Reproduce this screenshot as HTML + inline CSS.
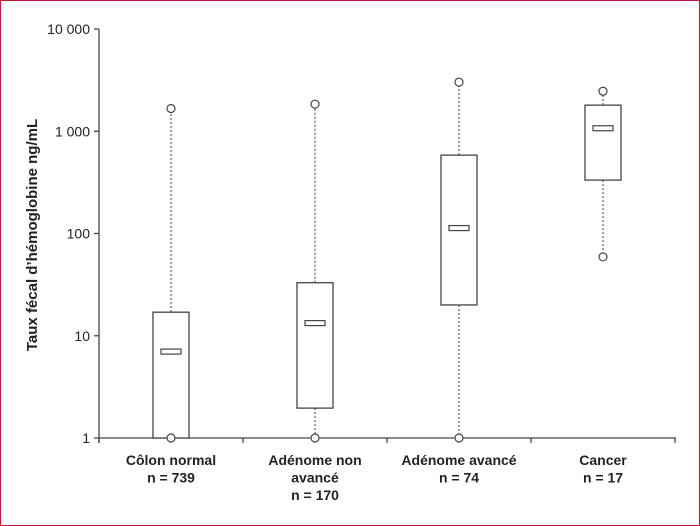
<!DOCTYPE html>
<html><head><meta charset="utf-8"><style>
html,body{margin:0;padding:0;background:#fff}
#wrap{width:698px;height:524px;border:1px solid #c0143c;position:relative}
svg{position:absolute;left:-1px;top:-1px}
text{font-family:"Liberation Sans",sans-serif;fill:#222}
</style></head><body>
<div id="wrap">
<svg id="chart" width="700" height="526"></svg>
</div>
<script>
const categories = ["Côlon normal", "Adénome non avancé", "Adénome avancé", "Cancer"];
const catLines = [["Côlon normal","n = 739"],["Adénome non","avancé","n = 170"],["Adénome avancé","n = 74"],["Cancer","n = 17"]];
const whiskerLow = [1, 1, 1, 59];
const q1 = [1, 1.96, 20, 333];
const medians = [7, 13.3, 113, 1070];
const q3 = [17, 33, 584, 1800];
const whiskerHigh = [1670, 1840, 3020, 2460];
const yTicks = [1, 10, 100, 1000, 10000];
const yTickLabels = ["1", "10", "100", "1 000", "10 000"];

const NS = "http://www.w3.org/2000/svg";
const svg = document.getElementById("chart");
const X0 = 99, X1 = 675, Y0 = 438, DEC = 102.25;
const bandW = (X1 - X0) / categories.length;
const yScale = v => Y0 - Math.log10(v) * DEC;
const xCenter = i => X0 + bandW * (i + 0.5);
function mk(tag, attrs, parent) {
  const e = document.createElementNS(NS, tag);
  for (const k in attrs) e.setAttribute(k, attrs[k]);
  (parent || svg).appendChild(e);
  return e;
}
const stroke = "#444";
// y axis
let yAxis = mk("line", {x1:X0, y1:yScale(10000), x2:X0, y2:Y0+5, stroke:stroke, "stroke-width":1.3});


yTicks.forEach((t, i) => {
  const tk = mk("line", {x1:X0-5, y1:yScale(t), x2:X0, y2:yScale(t), stroke:stroke, "stroke-width":1.3});
  
  
  const lb = mk("text", {x:X0-9, y:yScale(t)+5, "text-anchor":"end", "font-size":14});
  lb.textContent = yTickLabels[i];
  
  
});
// x axis
let xAxis = mk("line", {x1:X0, y1:Y0, x2:X1+1, y2:Y0, stroke:stroke, "stroke-width":1.3});


for (let i = 0; i <= categories.length; i++) {
  const tk = mk("line", {x1:X0+bandW*i, y1:Y0, x2:X0+bandW*i, y2:Y0+5, stroke:stroke, "stroke-width":1.3});
  
  
}
// y title
const yt = mk("text", {x:0, y:0, transform:"translate(37,235) rotate(-90)", "text-anchor":"middle", "font-size":15, "font-weight":"bold"});
yt.textContent = "Taux fécal d’hémoglobine ng/mL";


// boxes
categories.forEach((c, i) => {
  const cx = xCenter(i);
  const g = mk("g", {});
  
  
  const wl = mk("line", {x1:cx, y1:yScale(q3[i]), x2:cx, y2:yScale(whiskerHigh[i]), stroke:"#555", "stroke-width":1.2, "stroke-dasharray":"2,2"}, g);
  
  
  const wl2 = mk("line", {x1:cx, y1:yScale(q1[i]), x2:cx, y2:yScale(whiskerLow[i]), stroke:"#555", "stroke-width":1.2, "stroke-dasharray":"2,2"}, g);
  
  
  const r = mk("rect", {x:cx-18, y:yScale(q3[i]), width:36, height:yScale(q1[i])-yScale(q3[i]), fill:"#fff", stroke:stroke, "stroke-width":1.3}, g);
  
  
  const m = mk("rect", {x:cx-10, y:yScale(medians[i])-2.5, width:20, height:5, fill:"#fff", stroke:stroke, "stroke-width":1.2}, g);
  
  
  [whiskerHigh[i], whiskerLow[i]].forEach(v => {
    const o = mk("circle", {cx:cx, cy:yScale(v), r:4, fill:"#fff", stroke:stroke, "stroke-width":1.2}, g);
    
    
  });
  catLines[i].forEach((ln, j) => {
    const t = mk("text", {x:cx, y:Y0+27+j*17.5, "text-anchor":"middle", "font-size":14, "font-weight":"bold"});
    t.textContent = ln;
    
    
  });
});
</script>
</body></html>
